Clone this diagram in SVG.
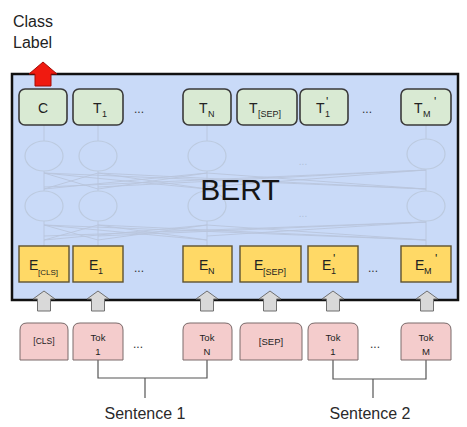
<svg xmlns="http://www.w3.org/2000/svg" width="467" height="427" viewBox="0 0 467 427">
<defs>
<style>
text{font-family:"Liberation Sans",Arial,sans-serif;fill:#222}
.g{fill:#d9ead3;stroke:#3a3a3a;stroke-width:1.6}
.y{fill:#ffd966;stroke:#5e5230;stroke-width:1.4}
.p{fill:#f4cccc;stroke:#7a6a6a;stroke-width:1}
.t{font-size:14px}
.s{font-size:9px}
.pr{font-size:12px}
.ss{font-size:8px}
.tk{font-size:9.5px;text-anchor:middle}
.dots{font-size:12px;text-anchor:middle;fill:#333}
.faint{fill:none;stroke:#b9c5dc;stroke-width:0.9}
.fe{fill:none;stroke:#bccadf;stroke-width:1.2}
.ga{fill:#d9d9d9;stroke:#6f6f6f;stroke-width:1}
.br{fill:none;stroke:#555;stroke-width:1.2}
.lbl{font-size:16px;text-anchor:middle;fill:#2a2a2a}
</style>
</defs>
<rect width="467" height="427" fill="#fff"/>

<g id="bert-box">
<rect x="12" y="74" width="446" height="226" fill="#c9daf8" stroke="#111" stroke-width="2.5"/>
</g>

<g id="network">
<g class="faint">
<path d="M44 125V141M98 125V141M207 125V141M426 125V139"/>
<path d="M44 171V191M98 171V191M207 171V191M426 169V191"/>
<path d="M44 221V246M98 221V246M207 221V246M426 221V246"/>
<path d="M44 173L98 189M44 173L207 189M44 173L426 189M98 173L44 189M98 173L207 189M98 173L426 189M207 173L44 189M207 173L98 189M207 173L426 189M426 170L44 187M426 170L98 187M426 170L207 187"/>
<path d="M44 225L98 240M44 225L207 240M44 225L426 240M98 225L44 240M98 225L207 240M98 225L426 240M207 225L44 240M207 225L98 240M207 225L426 240M426 222L44 236M426 222L98 236M426 222L207 236"/>
</g>
<g class="fe">
<ellipse cx="44" cy="156" rx="19" ry="15"/><ellipse cx="98" cy="156" rx="19" ry="15"/><ellipse cx="207" cy="156" rx="19" ry="15"/><ellipse cx="426" cy="154" rx="19" ry="15"/>
<ellipse cx="44" cy="206" rx="19" ry="15"/><ellipse cx="98" cy="206" rx="19" ry="15"/><ellipse cx="207" cy="206" rx="19" ry="15"/><ellipse cx="426" cy="206" rx="19" ry="15"/>
</g>
<text x="303" y="165" class="dots" style="fill:#b0bfd9;font-size:10px">...</text>
<text x="303" y="217" class="dots" style="fill:#b0bfd9;font-size:10px">...</text>
<text x="240" y="200" style="font-size:30px;text-anchor:middle;fill:#151515">BERT</text>
</g>

<g id="out-C"><rect class="g" x="19" y="89" width="48" height="36" rx="6"/><text class="t" x="43" y="113" text-anchor="middle">C</text></g>
<g id="out-T1"><rect class="g" x="73" y="89" width="50" height="36" rx="6"/><text class="t" x="93" y="113">T<tspan class="s" x="102" y="117">1</tspan></text></g>
<text class="dots" x="139" y="113">...</text>
<g id="out-TN"><rect class="g" x="183" y="89" width="48" height="36" rx="6"/><text class="t" x="199" y="113">T<tspan class="s" x="208" y="117">N</tspan></text></g>
<g id="out-TSEP"><rect class="g" x="237" y="89" width="60" height="36" rx="6"/><text class="t" x="249" y="113">T<tspan class="s" x="258" y="117">[SEP]</tspan></text></g>
<g id="out-T1p"><rect class="g" x="300" y="89" width="48" height="36" rx="6"/><text class="t" x="316" y="113">T<tspan class="s" x="325" y="117">1</tspan><tspan class="pr" x="326" y="106">'</tspan></text></g>
<text class="dots" x="367" y="113">...</text>
<g id="out-TMp"><rect class="g" x="401" y="89" width="50" height="36" rx="6"/><text class="t" x="414" y="113">T<tspan class="s" x="423" y="117">M</tspan><tspan class="pr" x="434" y="106">'</tspan></text></g>

<g id="emb-ECLS"><rect class="y" x="19" y="246" width="50" height="36"/><text class="t" x="29" y="270">E<tspan class="ss" x="38" y="275">[CLS]</tspan></text></g>
<g id="emb-E1"><rect class="y" x="73" y="246" width="50" height="36"/><text class="t" x="89" y="270">E<tspan class="s" x="98" y="274">1</tspan></text></g>
<text class="dots" x="139" y="272">...</text>
<g id="emb-EN"><rect class="y" x="183" y="246" width="49" height="36"/><text class="t" x="199" y="270">E<tspan class="s" x="208" y="274">N</tspan></text></g>
<g id="emb-ESEP"><rect class="y" x="240" y="246" width="61" height="36"/><text class="t" x="254" y="270">E<tspan class="s" x="263" y="275">[SEP]</tspan></text></g>
<g id="emb-E1p"><rect class="y" x="308" y="246" width="50" height="36"/><text class="t" x="322" y="270">E<tspan class="s" x="331" y="274">1</tspan><tspan class="pr" x="333" y="263">'</tspan></text></g>
<text class="dots" x="373" y="272">...</text>
<g id="emb-EMp"><rect class="y" x="401" y="246" width="50" height="36"/><text class="t" x="415" y="270">E<tspan class="s" x="424" y="274">M</tspan><tspan class="pr" x="435" y="263">'</tspan></text></g>

<g id="class-label">
<text x="13" y="27" style="font-size:16px">Class</text>
<text x="13" y="48" style="font-size:16px">Label</text>
</g>

<g id="connectors">
<path d="M43 62L57 74H51V86H35V74H29Z" fill="#f01a10" stroke="#a30c06" stroke-width="1"/>
<path class="ga" d="M44 291L55 299H50.5V311H37.5V299H33Z"/>
<path class="ga" d="M98 291L109 299H104.5V311H91.5V299H87Z"/>
<path class="ga" d="M207 291L218 299H213.5V311H200.5V299H196Z"/>
<path class="ga" d="M270 291L281 299H276.5V311H263.5V299H259Z"/>
<path class="ga" d="M333 291L344 299H339.5V311H326.5V299H322Z"/>
<path class="ga" d="M427 291L438 299H433.5V311H420.5V299H416Z"/>
<path class="br" d="M98 360V378H207V360M145 378V398"/>
<path class="br" d="M333 360V379H426V360M373 379V398"/>
</g>

<g id="tok-CLS"><path class="p" d="M20 360V330Q20 323 27 323H61Q68 323 68 330V360Z"/><text class="tk" x="44" y="344" style="font-size:8.5px">[CLS]</text></g>
<g id="tok-1"><path class="p" d="M73 360V330Q73 323 80 323H116Q123 323 123 330V360Z"/><text class="tk" x="98" y="341">Tok</text><text class="tk" x="98" y="355">1</text></g>
<text class="dots" x="138" y="348">...</text>
<g id="tok-N"><path class="p" d="M183 360V330Q183 323 190 323H225Q232 323 232 330V360Z"/><text class="tk" x="207" y="341">Tok</text><text class="tk" x="207" y="355">N</text></g>
<g id="tok-SEP"><path class="p" d="M240 360V330Q240 323 247 323H295Q302 323 302 330V360Z"/><text class="tk" x="271" y="345">[SEP]</text></g>
<g id="tok-1p"><path class="p" d="M308 360V330Q308 323 315 323H351Q358 323 358 330V360Z"/><text class="tk" x="333" y="341">Tok</text><text class="tk" x="333" y="355">1</text></g>
<text class="dots" x="375" y="348">...</text>
<g id="tok-M"><path class="p" d="M401 360V330Q401 323 408 323H444Q451 323 451 330V360Z"/><text class="tk" x="426" y="341">Tok</text><text class="tk" x="426" y="355">M</text></g>

<g id="sentence-labels">
<text class="lbl" x="145" y="419">Sentence 1</text>
<text class="lbl" x="370" y="419">Sentence 2</text>
</g>
</svg>
